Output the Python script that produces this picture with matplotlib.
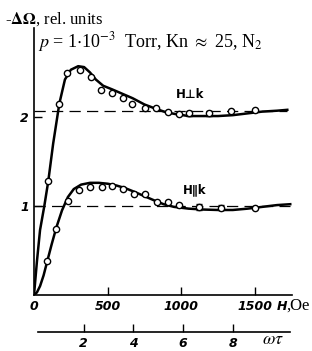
import numpy as np
import matplotlib.pyplot as plt

plt.rcParams['mathtext.fontset'] = 'stix'

# field H (Oe) and -dOmega (rel. units)
perp_curve_h = [0, 20, 41, 70, 97, 130, 172, 210, 250, 300, 340, 380, 420, 470, 530, 600,
                670, 750, 830, 900, 970, 1050, 1130, 1250, 1350, 1450, 1550, 1650, 1720]
perp_curve_y = [0, 0.38, 0.73, 1.0, 1.28, 1.7, 2.15, 2.42, 2.53, 2.57, 2.56, 2.50, 2.42, 2.35, 2.31, 2.26,
                2.21, 2.14, 2.09, 2.05, 2.03, 2.01, 2.01, 2.01, 2.02, 2.04, 2.06, 2.07, 2.08]
perp_pts_h = [97, 172, 226, 312, 385, 455, 527, 602, 667, 754, 828, 910, 984, 1335, 1503]
perp_pts_y = [1.28, 2.15, 2.49, 2.53, 2.45, 2.30, 2.27, 2.21, 2.14, 2.10, 2.10, 2.05, 2.03, 2.07, 2.08]
perp_err_h = [1052, 1190]
perp_err_y = [2.04, 2.04]

par_curve_h = [0, 20, 41, 65, 90, 120, 152, 190, 230, 270, 320, 380, 440, 500, 560, 620,
               680, 750, 820, 880, 950, 1050, 1150, 1250, 1350, 1450, 1550, 1650, 1740]
par_curve_y = [0, 0.03, 0.10, 0.22, 0.38, 0.57, 0.76, 0.95, 1.10, 1.19, 1.24, 1.26, 1.26, 1.25, 1.23, 1.20,
               1.16, 1.11, 1.06, 1.02, 0.99, 0.97, 0.96, 0.955, 0.955, 0.97, 0.99, 1.01, 1.02]
par_pts_h = [90, 152, 229, 305, 380, 460, 532, 602, 679, 751, 833, 908, 984, 1503]
par_pts_y = [0.385, 0.74, 1.06, 1.18, 1.21, 1.21, 1.22, 1.19, 1.13, 1.13, 1.05, 1.05, 1.01, 0.98]
par_err_h = [1122, 1267]
par_err_y = [0.99, 0.98]

perp_level = 2.07
par_level = 1.0
h_per_wt = 168.9

fig = plt.figure(figsize=(3.12, 3.51), dpi=100)
ax = fig.add_axes([0.109, 0.1595, 0.826, 0.761])

ax.plot(perp_curve_h, perp_curve_y, color='black', lw=1.8)
ax.plot(par_curve_h, par_curve_y, color='black', lw=1.8)
ax.plot([0, 1720], [perp_level] * 2, color='black', lw=0.9, dashes=(9, 5))
ax.plot([0, 1740], [par_level] * 2, color='black', lw=0.9, dashes=(9, 5))

mk = dict(ls='none', marker='o', ms=4.5, mfc='white', mec='black', mew=1.0)
ax.plot(perp_pts_h, perp_pts_y, **mk)
ax.plot(par_pts_h, par_pts_y, **mk)
ax.errorbar(perp_err_h, perp_err_y, yerr=0.03, capsize=2.5, ecolor='black', elinewidth=0.9, capthick=0.9, **mk)
ax.errorbar(par_err_h, par_err_y, yerr=0.03, capsize=2.5, ecolor='black', elinewidth=0.9, capthick=0.9, **mk)

ax.set_xlim(0, 1750)
ax.set_ylim(0, 3)
for s in ['top', 'right']:
    ax.spines[s].set_visible(False)
ax.spines['left'].set_linewidth(1.2)
ax.spines['bottom'].set_linewidth(1.2)
ax.set_xticks([0, 500, 1000, 1500])
ax.set_yticks([1, 2])
ax.tick_params(direction='in', length=6, width=1)
for lab in ax.get_xticklabels() + ax.get_yticklabels():
    lab.set_fontstyle('italic')
    lab.set_fontweight('bold')
    lab.set_fontsize(9)
ax.xaxis.get_major_ticks()[0].tick1line.set_visible(False)

ax.text(960, 2.25, 'H\u22a5k', fontsize=8.5, fontweight='bold', va='center')
ax.text(1010, 1.18, 'H\u2225k', fontsize=8.5, fontweight='bold', va='center')

fig.text(0.886, 0.128, 'H', fontsize=9, style='italic', fontweight='bold', ha='left', va='center')
fig.text(0.918, 0.128, ',Oe', fontsize=12, family='Liberation Serif', ha='left', va='center')

fig.text(0.122, 0.88, r'$p$ = 1$\cdot$10$^{-3}$  Torr, Kn $\approx$ 25, N$_2$',
         fontsize=13, family='Liberation Serif', ha='left', va='center')
fig.text(0.015, 0.945, r'-$\mathbf{\Delta\Omega}$, rel. units', fontsize=12, family='Liberation Serif',
         ha='left', va='center')

# omega tau scale
ax2 = fig.add_axes([0.109, 0.054, 0.826, 0.0001])
ax2.set_xlim(0, 1750 / h_per_wt)
for s in ['top', 'right', 'left']:
    ax2.spines[s].set_visible(False)
ax2.spines['bottom'].set_bounds(0.15, 10.3)
ax2.spines['bottom'].set_linewidth(1.2)
ax2.set_yticks([])
ax2.set_xticks([2, 4, 6, 8])
ax2.tick_params(direction='in', length=6, width=1)
for lab in ax2.get_xticklabels():
    lab.set_fontstyle('italic')
    lab.set_fontweight('bold')
    lab.set_fontsize(9)
fig.text(0.84, 0.035, r'$\omega\tau$', fontsize=13, ha='left', va='center')

fig.savefig('out.png', dpi=100)
